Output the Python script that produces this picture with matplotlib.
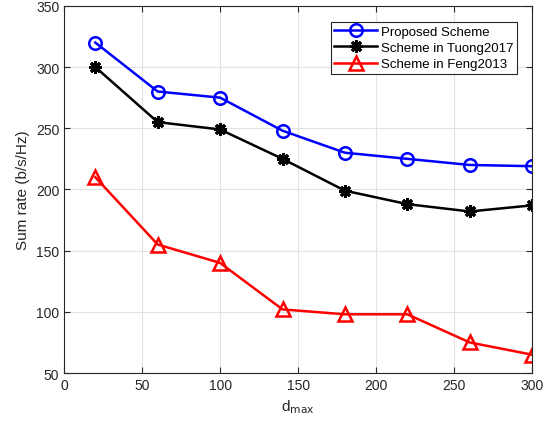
import matplotlib.pyplot as plt

d_max = [20, 60, 100, 140, 180, 220, 260, 300]
proposed = [320, 280, 275, 248, 230, 225, 220, 219]
tuong2017 = [300, 255, 249, 225, 199, 188, 182, 187]
feng2013 = [210, 155, 140, 102, 98, 98, 75, 65]

plt.rcParams['font.family'] = ['Liberation Sans', 'DejaVu Sans']

fig = plt.figure(figsize=(5.43, 4.27), dpi=100)
ax = fig.add_axes([0.118, 0.124, 0.862, 0.860])

ax.plot(d_max, proposed, '-o', color='#0000ff', lw=1.8, ms=9, mfc='none', mew=1.8,
        label='Proposed Scheme')
ax.plot(d_max, tuong2017, '-', color='black', lw=1.8, marker=(8, 2, 0), ms=9, mew=2.2,
        label='Scheme in Tuong2017')
ax.plot(d_max, feng2013, '-^', color='#ff0000', lw=1.8, ms=10, mfc='none', mew=1.8,
        label='Scheme in Feng2013')

ax.set_xlim(0, 300)
ax.set_ylim(50, 350)
ax.set_xticks(range(0, 301, 50))
ax.set_yticks(range(50, 351, 50))
ax.grid(True, color='#e3e3e3', lw=0.8)
ax.set_axisbelow(True)
ax.tick_params(direction='in', length=4, labelsize=10, colors='#262626',
               top=True, right=True, labeltop=False, labelright=False)
for s in ax.spines.values():
    s.set_color('#262626')
    s.set_linewidth(0.8)

ax.set_xlabel(r'd$_{\mathrm{max}}$', fontsize=11, color='#262626')
ax.set_ylabel('Sum rate (b/s/Hz)', fontsize=11, color='#262626')

leg = ax.legend(loc='upper right', bbox_to_anchor=(0.982, 0.975), fontsize=9.5,
                fancybox=False, framealpha=1, edgecolor='#262626',
                handlelength=3.2, borderpad=0.3, labelspacing=0.3,
                handletextpad=0.3)
leg.get_frame().set_linewidth(0.8)

fig.savefig('out.png', dpi=100)
